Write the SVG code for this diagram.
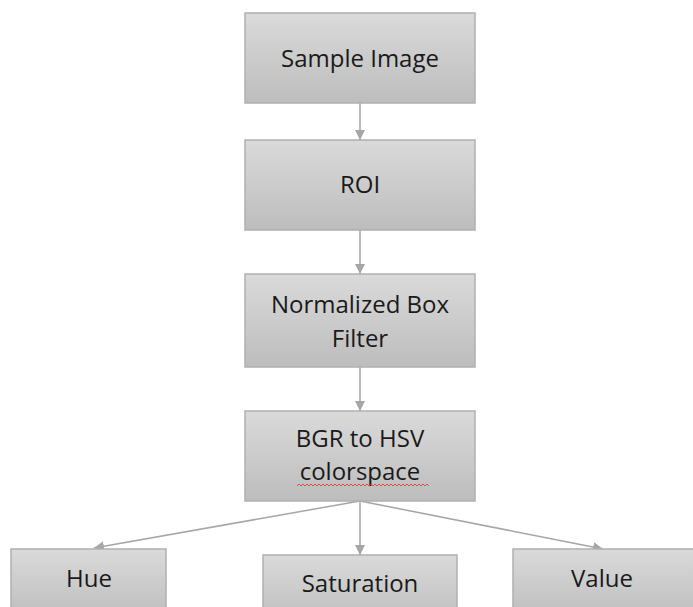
<svg xmlns="http://www.w3.org/2000/svg" width="693" height="607" viewBox="0 0 693 607">
<defs>
<linearGradient id="g" x1="0" y1="0" x2="0" y2="1">
<stop offset="0" stop-color="#dadada"/>
<stop offset="1" stop-color="#bdbdbd"/>
</linearGradient>
<marker id="ah" viewBox="0 0 10 10" refX="10" refY="5" markerWidth="10" markerHeight="10" markerUnits="userSpaceOnUse" orient="auto">
<path d="M0,0 L10,5 L0,10 Z" fill="#a6a6a6"/>
</marker>
</defs>
<style>
.box{fill:url(#g);stroke:#b0b0b0;stroke-width:1.5}
.t{font-family:"Open Sans","Liberation Sans",sans-serif;font-size:24px;fill:#1a1a1a;text-anchor:middle}
.c{stroke:#a6a6a6;stroke-width:1.5;fill:none;marker-end:url(#ah)}
</style>
<rect width="693" height="607" fill="#ffffff"/>
<g id="connectors">
<line class="c" x1="360" y1="103" x2="360" y2="140"/>
<line class="c" x1="360" y1="230" x2="360" y2="274"/>
<line class="c" x1="360" y1="367" x2="360" y2="411"/>
<line class="c" x1="360" y1="501" x2="94" y2="548"/>
<line class="c" x1="360" y1="501" x2="360" y2="555"/>
<line class="c" x1="360" y1="501" x2="603" y2="549"/>
</g>
<g id="sample">
<rect class="box" x="245" y="13" width="230" height="90"/>
<text class="t" x="360" y="67">Sample Image</text>
</g>
<g id="roi">
<rect class="box" x="245" y="140" width="230" height="90"/>
<text class="t" x="360" y="193">ROI</text>
</g>
<g id="filter">
<rect class="box" x="245" y="274" width="230" height="93"/>
<text class="t" x="360" y="313">Normalized Box</text>
<text class="t" x="360" y="347">Filter</text>
</g>
<g id="bgr">
<rect class="box" x="245" y="411" width="230" height="90"/>
<text class="t" x="360" y="447">BGR to HSV</text>
<text class="t" x="360" y="480">colorspace</text>
<path d="M297,486 l2,-2 l2,2 l2,-2 l2,2 l2,-2 l2,2 l2,-2 l2,2 l2,-2 l2,2 l2,-2 l2,2 l2,-2 l2,2 l2,-2 l2,2 l2,-2 l2,2 l2,-2 l2,2 l2,-2 l2,2 l2,-2 l2,2 l2,-2 l2,2 l2,-2 l2,2 l2,-2 l2,2 l2,-2 l2,2 l2,-2 l2,2 l2,-2 l2,2 l2,-2 l2,2 l2,-2 l2,2 l2,-2 l2,2 l2,-2 l2,2 l2,-2 l2,2 l2,-2 l2,2 l2,-2 l2,2 l2,-2 l2,2 l2,-2 l2,2 l2,-2 l2,2 l2,-2 l2,2 l2,-2 l2,2 l2,-2 l2,2 l2,-2 l2,2 l2,-2 l2,2" fill="none" stroke="#e03030" stroke-width="0.8"/>
</g>
<g id="hue">
<rect class="box" x="11" y="549" width="155" height="70"/>
<text class="t" x="89" y="587">Hue</text>
</g>
<g id="saturation">
<rect class="box" x="263" y="555" width="194" height="70"/>
<text class="t" x="360" y="592">Saturation</text>
</g>
<g id="value">
<rect class="box" x="513" y="549" width="190" height="70"/>
<text class="t" x="602" y="587">Value</text>
</g>
</svg>
